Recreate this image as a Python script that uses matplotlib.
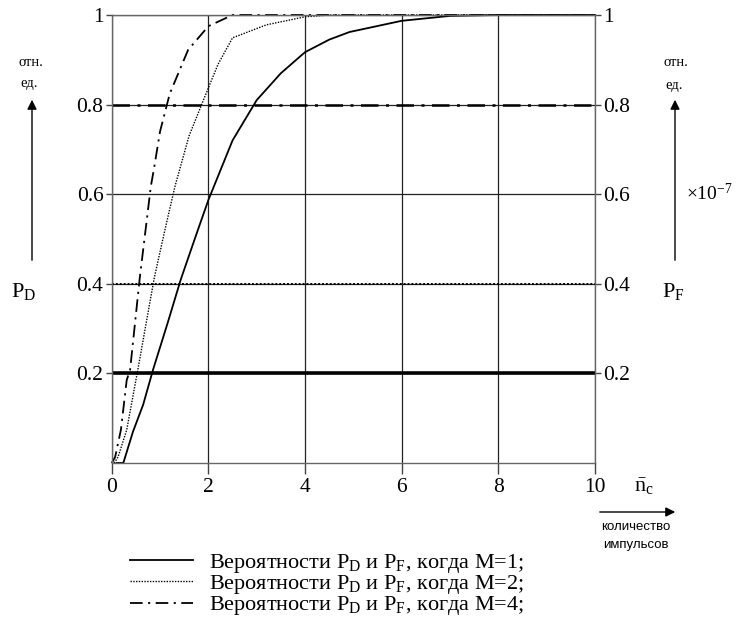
import matplotlib.pyplot as plt
from matplotlib.patches import FancyArrowPatch

plt.rcParams['font.family'] = ['Liberation Serif', 'DejaVu Serif']
plt.rcParams['mathtext.fontset'] = 'custom'
plt.rcParams['mathtext.rm'] = 'Liberation Serif'
plt.rcParams['mathtext.it'] = 'Liberation Serif:italic'

# P_D curves
x_m1 = [0.1, 0.24, 0.44, 0.65, 0.86, 1.15, 1.43, 1.75, 2.0, 2.5, 3.0, 3.5, 4.0, 4.5, 4.92, 6.0, 7.0, 8.0, 10.0]
pd_m1 = [0.0, 0.0, 0.07, 0.13, 0.21, 0.31, 0.41, 0.51, 0.587, 0.72, 0.81, 0.87, 0.917, 0.945, 0.962, 0.987, 0.998, 1.0, 1.0]

x_m2 = [0.05, 0.13, 0.31, 0.54, 0.88, 1.1, 1.31, 1.6, 1.95, 2.2, 2.5, 3.2, 4.0, 4.5, 10.0]
pd_m2 = [0.0, 0.013, 0.074, 0.208, 0.413, 0.52, 0.618, 0.73, 0.824, 0.89, 0.949, 0.978, 0.996, 1.0, 1.0]

x_m4 = [0.0, 0.07, 0.19, 0.31, 0.38, 0.58, 0.81, 0.87, 1.0, 1.2, 1.58, 2.0, 2.5, 10.0]
pd_m4 = [0.0, 0.013, 0.074, 0.185, 0.208, 0.413, 0.618, 0.654, 0.74, 0.824, 0.922, 0.975, 1.0, 1.0]

# P_F levels (x 1e-7) for M = 1, 2, 4
pf_levels = [0.2, 0.4, 0.8]

xticks = [0, 2, 4, 6, 8, 10]
yticks = [0.2, 0.4, 0.6, 0.8, 1.0]
ytick_labels = ['0.2', '0.4', '0.6', '0.8', '1']

labels = [r'Вероятности $\mathrm{P_D}$ и $\mathrm{P_F}$, когда M=1;',
          r'Вероятности $\mathrm{P_D}$ и $\mathrm{P_F}$, когда M=2;',
          r'Вероятности $\mathrm{P_D}$ и $\mathrm{P_F}$, когда M=4;']

styles = ['-', (0, (1, 1)), (0, (7, 3, 1.2, 3))]
widths = [1.3, 1.0, 1.3]
pf_widths = [2.6, 1.4, 1.8]

fig = plt.figure(figsize=(7.36, 6.17), dpi=100)
ax = fig.add_axes([0.1518, 0.2496, 0.6566, 0.7261])

ax.set_xlim(0, 10)
ax.set_ylim(0, 1)
ax.set_xticks(xticks)
ax.set_yticks(yticks)
ax.set_yticklabels(ytick_labels)
ax.grid(True, color='#222222', lw=0.9)
ax.set_axisbelow(True)

for s in ax.spines.values():
    s.set_color('#666666')
    s.set_linewidth(1.0)

ax.tick_params(axis='both', labelsize=15.5, colors='black', width=1, color='#444444')
ax.tick_params(axis='y', right=True, labelright=True, length=4, pad=2)
ax.tick_params(axis='x', length=8, pad=3)

lines = []
for xs, ys, st, w in [(x_m1, pd_m1, styles[0], widths[0]),
                      (x_m2, pd_m2, styles[1], widths[1]),
                      (x_m4, pd_m4, styles[2], widths[2])]:
    l, = ax.plot(xs, ys, color='black', linestyle=st, lw=w, clip_on=False)
    lines.append(l)

for lev, st, w in zip(pf_levels, styles, pf_widths):
    ax.plot([0, 10], [lev, lev], color='black', linestyle=st, lw=w)

H = 617
leg = ax.legend(lines, labels, loc='upper left', bbox_to_anchor=(130 / 736, 65 / H),
                bbox_transform=fig.transFigure, frameon=False, fontsize=16,
                handlelength=2.85, handletextpad=0.7, labelspacing=-0.08,
                borderpad=0, borderaxespad=0)

# side annotations
for xa in [32, 675]:
    fig.add_artist(FancyArrowPatch(
        (xa, H - 263), (xa, H - 97), transform=None,
        arrowstyle='-|>', mutation_scale=14, lw=1.0, color='black'))
fig.add_artist(FancyArrowPatch(
    (597, H - 512), (678, H - 512), transform=None,
    arrowstyle='-|>', mutation_scale=14, lw=1.0, color='black'))

fig.text(31 / 736, (H - 63) / H, 'отн.', fontsize=10.5, ha='center', va='center')
fig.text(29 / 736, (H - 83) / H, 'ед.', fontsize=10.5, ha='center', va='center')
fig.text(676 / 736, (H - 63) / H, 'отн.', fontsize=10.5, ha='center', va='center')
fig.text(674 / 736, (H - 85) / H, 'ед.', fontsize=10.5, ha='center', va='center')
fig.text(24 / 736, (H - 292) / H, r'$\mathrm{P_D}$', fontsize=16, ha='center', va='center')
fig.text(673 / 736, (H - 292) / H, r'$\mathrm{P_F}$', fontsize=16, ha='center', va='center')
fig.text(686 / 736, (H - 193) / H, r'$\times\mathrm{10^{-7}}$', fontsize=14, ha='left', va='center')
fig.text(644 / 736, (H - 487) / H, r'$\bar{\mathrm{n}}_\mathrm{c}$', fontsize=16, ha='center', va='center')
fig.text(636 / 736, (H - 527) / H, 'количество', fontsize=9.5, family='Liberation Sans', ha='center', va='center')
fig.text(636 / 736, (H - 545) / H, 'импульсов', fontsize=9.5, family='Liberation Sans', ha='center', va='center')

fig.savefig('out.png', dpi=100)
